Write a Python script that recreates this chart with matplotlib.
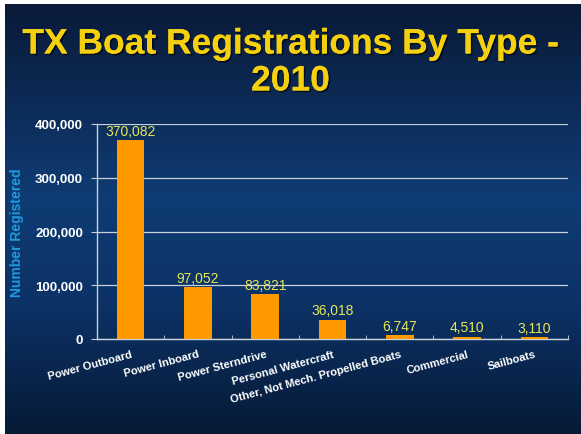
import matplotlib
matplotlib.use("Agg")
import matplotlib.pyplot as plt
import matplotlib.patheffects as pe
import numpy as np
from matplotlib.colors import LinearSegmentedColormap

categories = ["Power Outboard", "Power Inboard", "Power Sterndrive",
              "Personal Watercraft", "Other, Not Mech. Propelled Boats",
              "Commercial", "Sailboats"]
registrations = [370082, 97052, 83821, 36018, 6747, 4510, 3110]
y_ticks = [0, 100000, 200000, 300000, 400000]

plt.rcParams['font.family'] = ['Liberation Sans', 'DejaVu Sans']

fig = plt.figure(figsize=(5.81, 4.35), dpi=100)
fig.patch.set_facecolor("white")

# slide background (gradient), leaving a thin white frame on left/top
bg = fig.add_axes([5 / 581, 0, 576 / 581, 430 / 435])
bg.set_axis_off()
cmap = LinearSegmentedColormap.from_list(
    "slide", [(0.0, "#0a1a38"), (0.45, "#0f3c74"), (0.7, "#0c3266"), (1.0, "#061a36")])
grad = np.linspace(0, 1, 256).reshape(-1, 1)
bg.imshow(grad, aspect="auto", cmap=cmap, extent=[0, 1, 0, 1])

shadow = [pe.withSimplePatchShadow(offset=(1.2, -1.2), shadow_rgbFace="#000000", alpha=0.6), pe.Normal()]
fig.text(0.5, 1 - 45 / 435, "TX Boat Registrations By Type -", ha="center", va="center",
         fontsize=25.5, fontweight="bold", color="#f5d00f", path_effects=shadow)
fig.text(0.5, 1 - 82 / 435, "2010", ha="center", va="center",
         fontsize=25.5, fontweight="bold", color="#f5d00f", path_effects=shadow)

ax = fig.add_axes([97 / 581, 1 - 340 / 435, 471 / 581, 215 / 435])
ax.set_facecolor("none")
x = np.arange(len(categories))
bars = ax.bar(x, registrations, width=0.41, color="#ff9900", zorder=3)

ax.set_xlim(-0.5, len(categories) - 0.5)
ax.set_ylim(0, 400000)
ax.set_yticks(y_ticks)
ax.set_yticklabels([f"{v:,}" for v in y_ticks], color="white", fontsize=9.5, fontweight="bold")
ax.yaxis.grid(True, color="#c8d0dc", linewidth=0.9, zorder=0)

ax.set_xticks(x)
ax.set_xticklabels(categories, rotation=15, ha="right", rotation_mode="anchor",
                   color="white", fontsize=8, fontweight="bold")
ax.tick_params(axis="x", length=0, pad=7)
ax.set_xticks(np.arange(len(categories) + 1) - 0.5, minor=True)
ax.tick_params(axis="x", which="minor", length=3, color="#c8d0dc", direction="in")
ax.tick_params(axis="y", length=4, color="#c8d0dc", pad=6)

for side in ["top", "right"]:
    ax.spines[side].set_visible(False)
for side in ["left", "bottom"]:
    ax.spines[side].set_color("#c8d0dc")
    ax.spines[side].set_linewidth(1)

for bar, val in zip(bars, registrations):
    ax.text(bar.get_x() + bar.get_width() / 2, val + 4000, f"{val:,}",
            ha="center", va="bottom", fontsize=10, color="#e6e65a")

ax.set_ylabel("Number Registered", color="#1e9be0", fontsize=10, fontweight="bold", labelpad=8)

fig.savefig("out.png", dpi=100)
